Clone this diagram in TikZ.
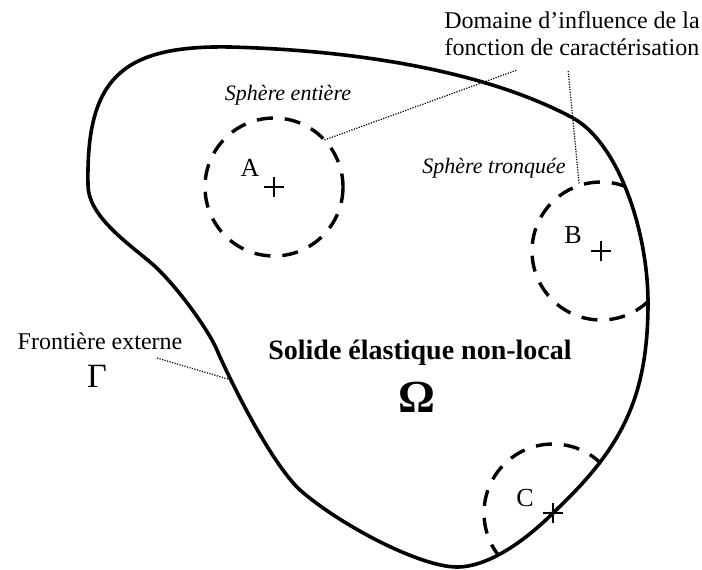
\documentclass[tikz,border=0pt]{standalone}
\usepackage{fontspec}
\setmainfont{Liberation Serif}
\newcommand\solidpath{(88,185)
  .. controls (86,80) and (120,45) .. (230,47)
  .. controls (345,50) and (480,68) .. (573,118)
  .. controls (618,143) and (648,230) .. (648,303)
  .. controls (648,400) and (620,450) .. (553,513)
  .. controls (528,538) and (490,567) .. (457,567)
  .. controls (420,567) and (340,525) .. (300,490)
  .. controls (270,462) and (229,378) .. (217,350)
  .. controls (207,327) and (172,280) .. (150,262)
  .. controls (125,241) and (88,215) .. cycle}
\begin{document}
\begin{tikzpicture}[x=0.5pt,y=-0.5pt,
    leader/.style={line width=0.6pt,dash pattern=on 0.6pt off 0.7pt},
    sphere/.style={line width=1.7pt,dash pattern=on 8pt off 6pt}]
  \useasboundingbox (0,0) rectangle (702,569);

  % centres des spheres
  \coordinate (cA) at (274,187);
  \coordinate (cB) at (601,251);
  \coordinate (cC) at (553,513);

  \begin{scope}
    \clip \solidpath;
    \foreach \c in {cA,cB,cC}{
      \draw[sphere] (\c) circle (69);
    }
  \end{scope}
  \draw[line width=1.8pt] \solidpath;

  \foreach \c in {cA,cB,cC}{
    \draw[line width=0.7pt] (\c) +(-10,0) -- +(10,0) (\c) +(0,-10) -- +(0,10);
  }
  \node[font=\fontsize{13}{15}\selectfont] (labA) at (250,168) {A};
  \node[font=\fontsize{13}{15}\selectfont] (labB) at (573,235) {B};
  \node[font=\fontsize{13}{15}\selectfont] (labC) at (525,498) {C};

  \node[font=\fontsize{11}{13}\selectfont\itshape] (entiere) at (288,95) {Sphère entière};
  \node[font=\fontsize{11}{13}\selectfont\itshape] (tronquee) at (494,168) {Sphère tronquée};

  \node[font=\fontsize{12}{13.5}\selectfont,align=center] (domaine) at (572,34)
    {Domaine d’influence de la\\fonction de caractérisation};
  \path (cA) ++(-43:69) coordinate (pA);
  \path (cB) ++(-108:71) coordinate (pB);
  \coordinate (dom1) at (517,70);
  \coordinate (dom2) at (568,70);
  \draw[leader] (pA) -- (dom1);
  \draw[leader] (pB) -- (dom2);

  \node[font=\fontsize{12}{14}\selectfont] (front) at (100,341) {Frontière externe};
  \node[font=\fontsize{17}{19}\selectfont] (gamma) at (97,376) {Γ};
  \coordinate (gam) at (157,358);
  \coordinate (bord) at (228,379);
  \draw[leader] (gam) -- (bord);

  \node[font=\fontsize{14}{16}\selectfont\bfseries] (solide) at (420,353) {Solide élastique non-local};
  \node[font=\fontsize{23}{25}\selectfont\bfseries] (omega) at (417,397) {Ω};
\end{tikzpicture}
\end{document}
